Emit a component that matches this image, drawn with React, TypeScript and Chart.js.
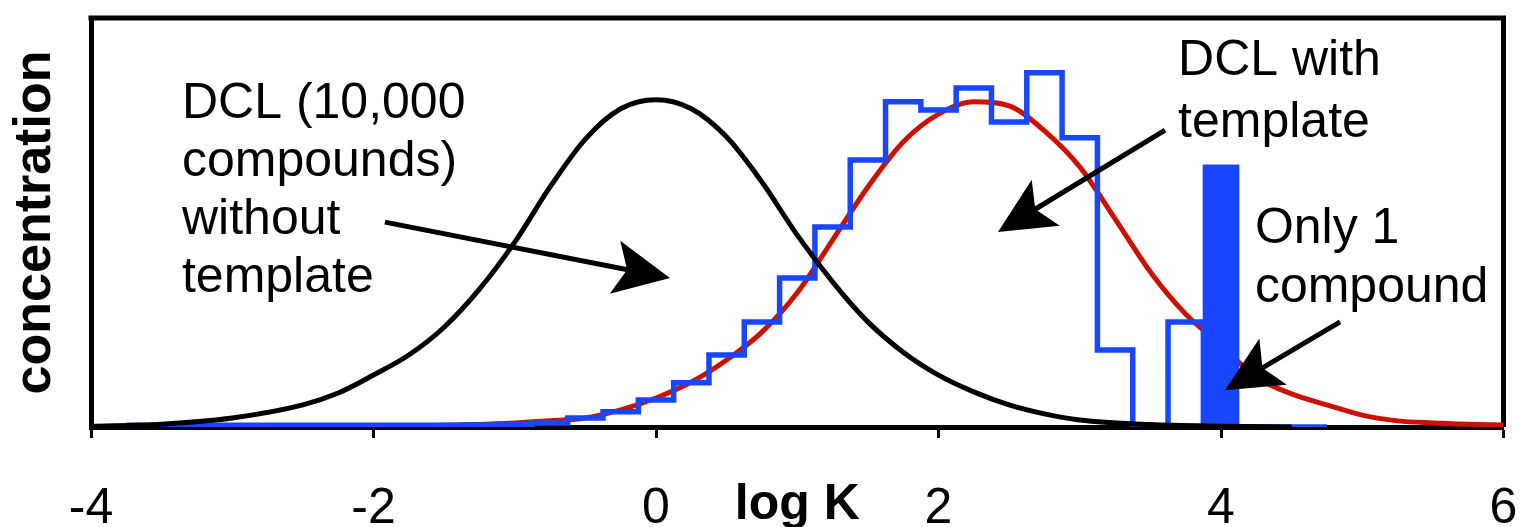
import React, { useEffect, useRef } from "react";
import { Chart, registerables } from "chart.js";

Chart.register(...registerables);

const FONT = "'Liberation Sans', Arial, Helvetica, sans-serif";

// x-axis tick labels (log K)
const xTickValues = [-4, -2, 0, 2, 4, 6];

// DCL without template (black curve): log K vs concentration (a.u.)
const withoutTemplateX = [-4, -3.5, -3, -2.5, -2.25, -2, -1.75, -1.5, -1.25, -1, -0.75, -0.5, -0.25, 0, 0.25, 0.5, 0.75, 1, 1.25, 1.5, 1.75, 2, 2.25, 2.5, 2.75, 3, 3.5, 4, 4.5];
const withoutTemplateY = [0.2, 0.7, 2.2, 5.4, 8.3, 12.7, 17.6, 24.4, 33.7, 45.2, 58.7, 70.4, 77.8, 80.0, 77.8, 70.9, 59.9, 46.9, 35.5, 25.7, 18.3, 12.7, 8.6, 5.4, 3.2, 1.7, 0.6, 0.2, 0];

// DCL with template (red curve)
const withTemplateX = [-4, -3, -2, -1.5, -1, -0.75, -0.5, -0.25, 0, 0.25, 0.5, 0.75, 1, 1.25, 1.5, 1.75, 2, 2.25, 2.5, 2.75, 3, 3.25, 3.5, 3.75, 4, 4.25, 4.5, 4.75, 5, 5.25, 5.5, 5.75, 6];
const withTemplateY = [0.1, 0.1, 0.2, 0.4, 1.0, 1.5, 2.2, 4.2, 7.1, 11.0, 16.4, 23.2, 32.8, 45.7, 58.7, 69.7, 76.5, 79.5, 78.5, 72.4, 63.6, 50.9, 37.9, 27.6, 20.0, 12.2, 8.1, 5.4, 2.9, 1.5, 1.0, 0.7, 0.5];

// Histogram of the templated library (blue outline), bin centres
const histBinCenters = [-3.75, -3.5, -3.25, -3, -2.75, -2.5, -2.25, -2, -1.75, -1.5, -1.25, -1, -0.75, -0.5, -0.25, 0, 0.25, 0.5, 0.75, 1, 1.25, 1.5, 1.75, 2, 2.25, 2.5, 2.75, 3, 3.25, 3.5, 3.75, 4, 4.25, 4.5, 4.75];
const histCounts = [0.4, 0.4, 0.4, 0.4, 0.4, 0.4, 0.4, 0.4, 0.4, 0.4, 0.5, 0.7, 1.0, 2.2, 3.7, 6.6, 10.8, 17.6, 25.7, 36.4, 48.9, 65.3, 79.5, 77.5, 82.9, 74.6, 86.6, 70.7, 18.8, 0, 25.7, 0, 0, 0, 0];

// The single amplified compound (filled blue bar)
const singleCompoundX = [4];
const singleCompoundY = [64.1];

// Annotations (positions in data units)
const textBlocks = [
  { x: -3.356, y: 75.6, lineHeight: 58, lines: ["DCL (10,000", "compounds)", "without", "template"] },
  { x: 3.696, y: 86.1, lineHeight: 62, lines: ["DCL with", "template"] },
  { x: 4.24, y: 45.0, lineHeight: 59, lines: ["Only 1", "compound"] },
];
const arrows = [
  { x1: -1.919, y1: 50.1, x2: 0.099, y2: 36.4 },
  { x1: 3.604, y1: 72.6, x2: 2.421, y2: 47.7 },
  { x1: 4.843, y1: 25.7, x2: 4.028, y2: 9.0 },
];

const BLUE = "#1846ff";
const RED = "#cc1100";

const framePlugin = {
  id: "frame",
  beforeDatasetsDraw(chart: any) {
    const { ctx, chartArea } = chart;
    const { left, right, top, bottom } = chartArea;
    ctx.save();
    ctx.strokeStyle = "#000";
    ctx.lineWidth = 5;
    ctx.beginPath();
    ctx.moveTo(left - 2.5, top);
    ctx.lineTo(right, top);
    ctx.moveTo(right, top - 2.5);
    ctx.lineTo(right, bottom);
    ctx.stroke();
    ctx.restore();
  },
};

const annotationPlugin = {
  id: "annotations",
  afterDatasetsDraw(chart: any) {
    const { ctx } = chart;
    const xs = chart.scales.x;
    const ys = chart.scales.y;
    ctx.save();
    ctx.fillStyle = "#000";
    ctx.strokeStyle = "#000";
    ctx.font = `50px ${FONT}`;
    ctx.textAlign = "left";
    ctx.textBaseline = "alphabetic";
    for (const b of textBlocks) {
      const px = xs.getPixelForValue(b.x);
      const py = ys.getPixelForValue(b.y);
      b.lines.forEach((t, i) => ctx.fillText(t, px, py + i * b.lineHeight));
    }
    const L = 56;
    const W = 27;
    for (const a of arrows) {
      const sx = xs.getPixelForValue(a.x1);
      const sy = ys.getPixelForValue(a.y1);
      const tx = xs.getPixelForValue(a.x2);
      const ty = ys.getPixelForValue(a.y2);
      const len = Math.hypot(tx - sx, ty - sy);
      const ux = (tx - sx) / len;
      const uy = (ty - sy) / len;
      const nx = -uy;
      const ny = ux;
      ctx.lineWidth = 5;
      ctx.lineCap = "butt";
      ctx.beginPath();
      ctx.moveTo(sx, sy);
      ctx.lineTo(tx - ux * L * 0.7, ty - uy * L * 0.7);
      ctx.stroke();
      ctx.beginPath();
      ctx.moveTo(tx, ty);
      ctx.lineTo(tx - ux * L + nx * W, ty - uy * L + ny * W);
      ctx.lineTo(tx - ux * L * 0.78, ty - uy * L * 0.78);
      ctx.lineTo(tx - ux * L - nx * W, ty - uy * L - ny * W);
      ctx.closePath();
      ctx.fill();
    }
    ctx.restore();
  },
};

export default function App() {
  const canvasRef = useRef<HTMLCanvasElement | null>(null);

  useEffect(() => {
    if (!canvasRef.current) return;
    Chart.defaults.font.family = FONT;
    const chart = new Chart(canvasRef.current, {
      type: "line",
      data: {
        datasets: [
          {
            label: "DCL without template",
            data: withoutTemplateX.map((x, i) => ({ x, y: withoutTemplateY[i] })),
            borderColor: "#000",
            borderWidth: 5,
            pointRadius: 0,
            cubicInterpolationMode: "monotone",
            fill: false,
          },
          {
            type: "bar",
            label: "Only 1 compound",
            data: singleCompoundX.map((x, i) => ({ x, y: singleCompoundY[i] })),
            backgroundColor: BLUE,
            borderWidth: 0,
            barThickness: 36,
          } as any,
          {
            label: "Histogram",
            data: histBinCenters.map((x, i) => ({ x, y: histCounts[i] })),
            borderColor: BLUE,
            borderWidth: 5.5,
            pointRadius: 0,
            stepped: "middle",
            fill: false,
          },
          {
            label: "DCL with template",
            data: withTemplateX.map((x, i) => ({ x, y: withTemplateY[i] })),
            borderColor: RED,
            borderWidth: 5,
            pointRadius: 0,
            cubicInterpolationMode: "monotone",
            fill: false,
          },
        ],
      },
      options: {
        responsive: false,
        devicePixelRatio: 1,
        animation: false,
        events: [],
        layout: { padding: { top: 18, right: 16.5, left: 0, bottom: 0 } },
        plugins: {
          legend: { display: false },
          tooltip: { enabled: false },
        },
        scales: {
          x: {
            type: "linear",
            min: -4,
            max: 6,
            offset: false,
            afterBuildTicks: (scale: any) => {
              scale.ticks = xTickValues.map((v) => ({ value: v }));
            },
            afterFit: (scale: any) => {
              scale.height = 100;
              scale.paddingLeft = 0;
              scale.paddingRight = 0;
            },
            ticks: {
              color: "#000",
              font: { size: 50, family: FONT },
              padding: 41,
              maxRotation: 0,
              autoSkip: false,
            },
            grid: {
              display: true,
              offset: false,
              drawOnChartArea: false,
              drawTicks: true,
              tickLength: 11,
              tickWidth: 3,
              tickColor: "#000",
            },
            border: { display: true, color: "#000", width: 5 },
            title: {
              display: true,
              text: "log K",
              color: "#000",
              font: { size: 50, weight: "bold", family: FONT },
              padding: { top: 0, bottom: -8 },
            },
          },
          y: {
            type: "linear",
            min: 0,
            max: 100,
            afterFit: (scale: any) => {
              scale.width = 91;
              scale.paddingTop = 0;
              scale.paddingBottom = 0;
            },
            ticks: { display: false },
            grid: { display: false, drawTicks: false },
            border: { display: true, color: "#000", width: 5 },
            title: {
              display: true,
              text: "concentration",
              color: "#000",
              font: { size: 52, weight: "bold", family: FONT },
              padding: { top: 4, bottom: 0 },
            },
          },
        },
      },
      plugins: [framePlugin, annotationPlugin],
    });
    return () => chart.destroy();
  }, []);

  return (
    <div style={{ position: "fixed", left: 0, top: 0, width: 1520, height: 527, background: "#fff" }}>
      <canvas ref={canvasRef} width={1520} height={527} style={{ display: "block" }} />
    </div>
  );
}
